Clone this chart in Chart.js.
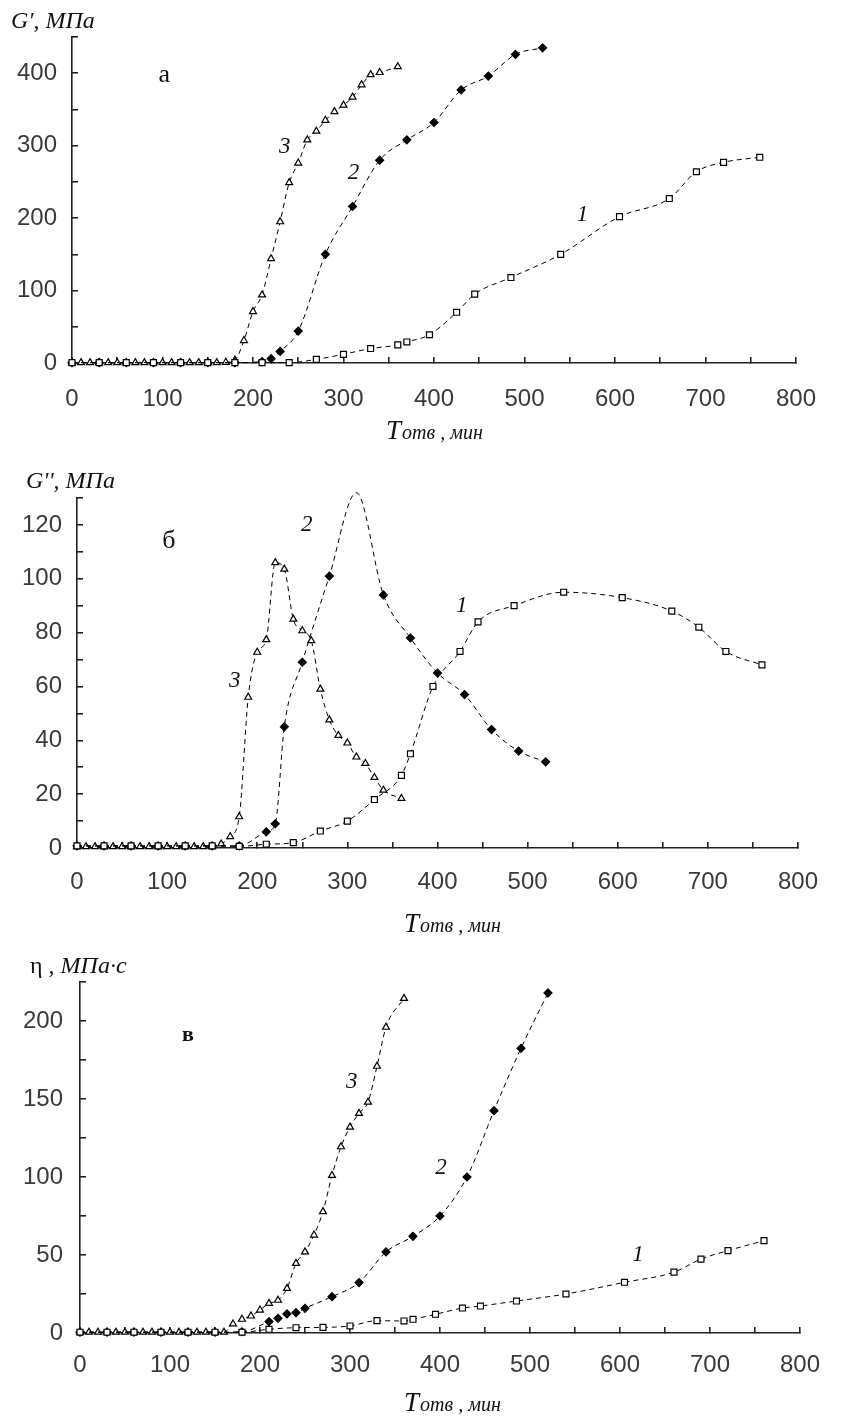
<!DOCTYPE html>
<html>
<head>
<meta charset="utf-8">
<script src="https://cdn.jsdelivr.net/npm/chart.js@4.4.1/dist/chart.umd.min.js"></script>
<style>
  body { margin: 0; background: #fff; width: 844px; height: 1419px; position: relative; overflow: hidden; }
  canvas { position: absolute; left: 0; }
</style>
</head>
<body>
<canvas id="panelA" width="844" height="460" style="top:0px"></canvas>
<canvas id="panelB" width="844" height="480" style="top:460px"></canvas>
<canvas id="panelC" width="844" height="479" style="top:940px"></canvas>
<script>
// time, min
const t1 = [0, 30, 60, 90, 120, 150, 180, 210, 240, 270, 300, 330, 360, 370, 395, 425, 445, 485, 540, 605, 660, 690, 720, 760];
const t2 = [0, 30, 60, 90, 120, 150, 180, 210, 220, 230, 240, 250, 280, 310, 340, 370, 400, 430, 460, 490, 520];
const t3 = [0, 10, 20, 30, 40, 50, 60, 70, 80, 90, 100, 110, 120, 130, 140, 150, 160,
            170, 180, 190, 200, 210, 220, 230, 240, 250, 260, 270, 280, 290, 300, 310, 320, 330, 340, 360];

// G', MPa
const gA1 = [0.5, 0.5, 0.5, 0.5, 0.5, 0.5, 0.5, 0.5, 0.5, 5, 12, 20, 25, 29, 39, 70, 95, 118, 150, 202, 227, 264, 277, 284];
const gA2 = [0.5, 0.5, 0.5, 0.5, 0.5, 0.5, 0.5, 2, 6, 16, null, 44, 150, 216, 280, 308, 332, 377, 396, 426, 435];
const gA3 = [0.5, 0.5, 0.5, 0.5, 0.5, 0.5, 0.5, 0.5, 0.5, 0.5, 0.5, 0.5, 0.5, 0.5, 0.5, 0.5, 0.5,
             1, 4, 31, 71, 94, 144, 195, 249, 276, 308, 320, 335, 347, 356, 367, 384, 398, 401, 409];

// G'', MPa
const gB1 = [0.8, 0.8, 0.8, 0.8, 0.8, 0.8, 0.6, 1.4, 2, 6.3, 10, 18, 27, 35, 60, 73, 84, 90, 95, 93, 88, 82, 73, 68];
const gB2 = [0.8, 0.8, 0.8, 0.8, 0.8, 0.8, 0.8, 6, 9, 45, null, 69, 101, 132, 94, 78, 65, 57, 44, 36, 32];
const gB3 = [0.5, 0.5, 0.5, 0.5, 0.5, 0.5, 0.5, 0.5, 0.5, 0.5, 0.5, 0.5, 0.5, 0.5, 0.5, 0.5, 1.5,
             4.2, 11.6, 56, 72.7, 77.4, 106, 103.6, 85, 80.7, 77, 59, 47.6, 41.8, 39, 33.8, 31.4, 26.2, 21.5, 18.4];

// eta, MPa*s
const gC1 = [0.5, 0.5, 0.5, 0.5, 0.5, 0.5, 0.5, 2.4, 3.4, 3.6, 4.5, 7.9, 7.7, 8.8, 12, 16, 17.3, 20.5, 25, 32.5, 39, 47.4, 52.8, 59.2];
const gC2 = [0.5, 0.5, 0.5, 0.5, 0.5, 0.5, 0.8, 7.3, 9.4, 12.2, 13, 15.8, 23.3, 32.3, 52, 62, 75, 100, 142.5, 182.5, 218];
const gC3 = [0.5, 0.5, 0.5, 0.5, 0.5, 0.5, 0.5, 0.5, 0.5, 0.5, 0.5, 0.5, 0.5, 0.5, 0.5, 0.5, 0.5,
             5.8, 8.8, 10.9, 14.7, 19, 21, 28.6, 44.6, 52, 62.8, 77.8, 101, 119.4, 132, 140.8, 148, 171, 196, 214.5];

const serif = '"Liberation Serif", "DejaVu Serif", serif';
const sans = '"Liberation Sans", Arial, sans-serif';

function pts(xs, ys) {
  return xs.map((x, i) => ({ x: x, y: ys[i] })).filter(p => p.y !== null);
}

function series(xs, ys, style, fill) {
  return {
    data: pts(xs, ys),
    borderColor: '#000',
    borderWidth: 1,
    borderDash: [5, 4],
    cubicInterpolationMode: 'monotone',
    pointStyle: style,
    pointRadius: style === 'rect' ? 4.2 : 4,
    pointBackgroundColor: fill,
    pointBorderColor: '#000',
    pointBorderWidth: 1.2,
    clip: false
  };
}

// texts on top of each panel
const notes = {
  id: 'notes',
  afterDraw(chart, args, o) {
    const ctx = chart.ctx, xs = chart.scales.x, ys = chart.scales.y;
    ctx.save();
    ctx.fillStyle = '#111';
    ctx.textBaseline = 'alphabetic';
    ctx.textAlign = 'left';
    // y title
    let x = o.yTitle.x;
    o.yTitle.parts.forEach(p => {
      ctx.font = p[1];
      ctx.fillText(p[0], x, o.yTitle.y);
      x += ctx.measureText(p[0]).width;
    });
    // x title
    x = o.xTitle.x;
    ctx.font = 'italic 27px ' + serif;
    ctx.fillText('T', x, o.xTitle.y);
    x += ctx.measureText('T').width + 1;
    ctx.font = 'italic 20px ' + serif;
    ctx.fillText('отв , мин', x, o.xTitle.y);
    // panel letter
    ctx.textAlign = 'center';
    ctx.textBaseline = 'middle';
    ctx.font = o.letter.font;
    ctx.fillText(o.letter.text, xs.getPixelForValue(o.letter.x), ys.getPixelForValue(o.letter.y));
    // curve numbers
    ctx.font = 'italic 23px ' + serif;
    o.curves.forEach(c => {
      ctx.fillText(c[0], xs.getPixelForValue(c[1]), ys.getPixelForValue(c[2]));
    });
    ctx.restore();
  }
};

function panel(id, sets, p) {
  return new Chart(document.getElementById(id), {
    type: 'line',
    data: { datasets: sets },
    options: {
      responsive: false,
      animation: false,
      events: [],
      layout: { padding: { top: p.top, right: p.right, left: 0, bottom: 0 } },
      plugins: { legend: { display: false }, tooltip: { enabled: false }, notes: p.notes },
      scales: {
        x: {
          type: 'linear', min: 0, max: 800,
          afterFit: s => { s.height = p.xh; },
          border: { color: '#222', width: 1.6 },
          grid: { drawOnChartArea: false, tickLength: -6, color: '#222', lineWidth: 1.6 },
          ticks: {
            stepSize: 50, autoSkip: false, maxRotation: 0, padding: p.xpad,
            color: '#3a3a3a', font: { family: sans, size: 24 },
            callback: v => (v % 100 === 0 ? v : '')
          }
        },
        y: {
          type: 'linear', min: 0, max: p.ymax,
          afterFit: s => { s.width = p.yw; },
          border: { color: '#222', width: 1.6 },
          grid: { drawOnChartArea: false, tickLength: -6, color: '#222', lineWidth: 1.6 },
          ticks: {
            stepSize: p.ystep, autoSkip: false, padding: p.ypad,
            color: '#3a3a3a', font: { family: sans, size: 24 },
            callback: v => (v % p.ylab === 0 ? v : '')
          }
        }
      }
    },
    plugins: [notes]
  });
}

panel('panelA', [
  series(t1, gA1, 'rect', '#fff'),
  series(t2, gA2, 'rectRot', '#000'),
  series(t3, gA3, 'triangle', '#fff')
], {
  top: 37, right: 45, xh: 97, yw: 72, ymax: 450, ystep: 50, ylab: 100, xpad: 28, ypad: 21,
  notes: {
    yTitle: { x: 11, y: 28, parts: [["G', МПа", 'italic 24px ' + serif]] },
    xTitle: { x: 386, y: 439 },
    letter: { text: 'а', x: 102, y: 397, font: '26px ' + serif },
    curves: [['3', 235, 298], ['2', 311, 263], ['1', 564, 204]]
  }
});

panel('panelB', [
  series(t1, gB1, 'rect', '#fff'),
  series(t2, gB2, 'rectRot', '#000'),
  series(t3, gB3, 'triangle', '#fff')
], {
  top: 38, right: 33, xh: 92, yw: 77, ymax: 130, ystep: 10, ylab: 20, xpad: 26, ypad: 21,
  notes: {
    yTitle: { x: 26, y: 28, parts: [["G'', МПа", 'italic 24px ' + serif]] },
    xTitle: { x: 404, y: 472 },
    letter: { text: 'б', x: 102, y: 114, font: '26px ' + serif },
    curves: [['2', 255, 120], ['3', 175, 62], ['1', 427, 90]]
  }
});

panel('panelC', [
  series(t1, gC1, 'rect', '#fff'),
  series(t2, gC2, 'rectRot', '#000'),
  series(t3, gC3, 'triangle', '#fff')
], {
  top: 42, right: 28, xh: 86, yw: 80, ymax: 225, ystep: 25, ylab: 50, xpad: 24, ypad: 23,
  notes: {
    yTitle: { x: 30, y: 33, parts: [['η', '24px ' + serif], [' , МПа·с', 'italic 24px ' + serif]] },
    xTitle: { x: 404, y: 471 },
    letter: { text: 'в', x: 120, y: 191, font: 'bold 22px ' + serif },
    curves: [['3', 302, 161], ['2', 401, 106], ['1', 620, 50]]
  }
});
</script>
</body>
</html>
